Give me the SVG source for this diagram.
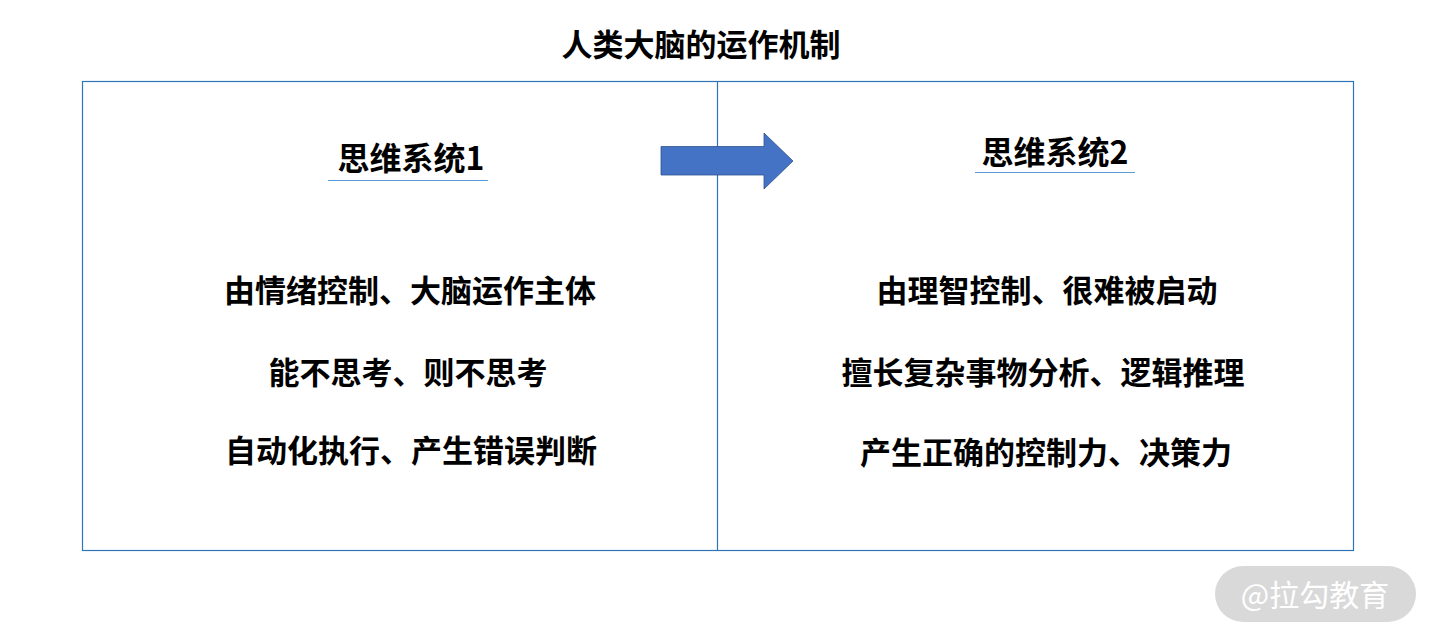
<svg xmlns="http://www.w3.org/2000/svg" width="1436" height="642" viewBox="0 0 1436 642">
<style>
.t{font-family:"Noto Sans CJK SC","Noto Sans",sans-serif;font-weight:bold;fill:#000;text-anchor:middle}
.b{font-size:31px}
.h{font-size:32px}
.ul{stroke:#5b9bd5;stroke-width:1.2}
</style>
<rect width="1436" height="642" fill="#fff"/>
<text class="t b" x="701" y="56">人类大脑的运作机制</text>
<g id="frame">
<rect x="82.5" y="81.5" width="1271" height="469" fill="none" stroke="#2e75b6" stroke-width="1.2"/>
<line x1="717.5" y1="81.5" x2="717.5" y2="550.5" stroke="#2e75b6" stroke-width="1.2"/>
</g>
<g id="system1">
<text class="t h" x="411" y="170">思维系统1</text>
<line class="ul" x1="328" y1="180.5" x2="488" y2="180.5"/>
<text class="t b" x="410" y="302">由情绪控制、大脑运作主体</text>
<text class="t b" x="408" y="384">能不思考、则不思考</text>
<text class="t b" x="411" y="462">自动化执行、产生错误判断</text>
</g>
<g id="system2">
<text class="t h" x="1055" y="164">思维系统2</text>
<line class="ul" x1="975" y1="172.5" x2="1135" y2="172.5"/>
<text class="t b" x="1047" y="302">由理智控制、很难被启动</text>
<text class="t b" x="1043" y="384">擅长复杂事物分析、逻辑推理</text>
<text class="t b" x="1046" y="464">产生正确的控制力、决策力</text>
</g>
<g id="connectors">
<polygon points="661,146.5 764,146.5 764,133 793,161 764,189 764,175 661,175" fill="#4472c4" stroke="#2f528f" stroke-width="0.8"/>
</g>
<g id="watermark">
<rect x="1215" y="566" width="201" height="56" rx="28" fill="#d9d9d9"/>
<text x="1315" y="606" font-family="Noto Sans CJK SC,sans-serif" font-size="30" fill="#fff" text-anchor="middle">@拉勾教育</text>
</g>
</svg>
